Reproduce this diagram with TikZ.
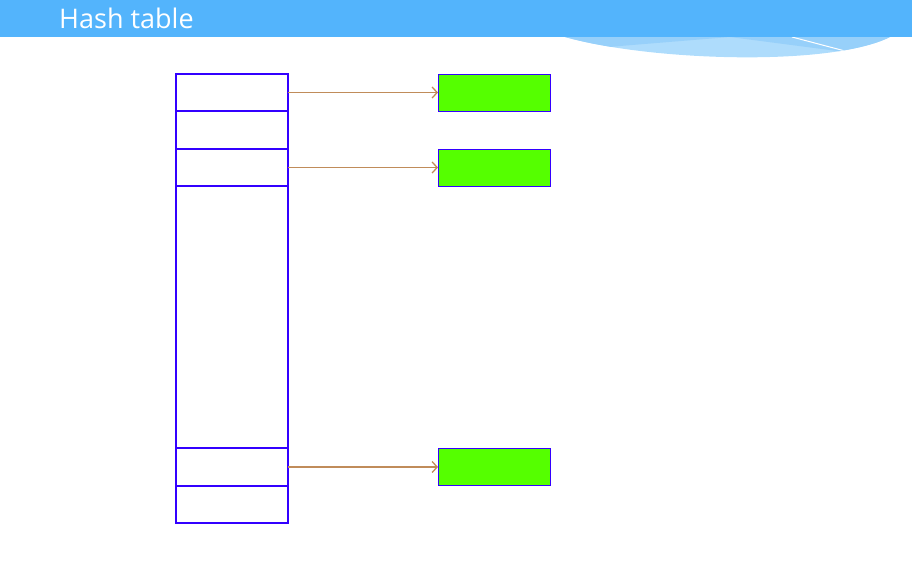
\documentclass[tikz,border=0pt]{standalone}
\usepackage{fontspec}
\setmainfont{Open Sans}
\usetikzlibrary{arrows.meta}
\definecolor{banner}{RGB}{83,180,252}
\definecolor{swlight}{RGB}{174,220,252}
\definecolor{swmed}{RGB}{151,208,250}
\definecolor{cellblue}{RGB}{51,0,255}
\definecolor{boxgreen}{RGB}{85,255,0}
\definecolor{arrbrown}{RGB}{192,140,90}
\tikzset{
  cell/.style={draw=cellblue, line width=2pt, fill=white, minimum width=112pt, inner sep=0pt, outer sep=0pt},
  gbox/.style={draw=cellblue, line width=1pt, fill=boxgreen, minimum width=112pt, minimum height=37pt, inner sep=0pt, outer sep=0pt},
  arr/.style={draw=arrbrown, line width=1.3pt, -{Straight Barb[length=5pt,width=11pt]}},
  title/.style={text=white, font=\fontsize{27}{32}\selectfont, anchor=base west, inner sep=0pt}
}
\begin{document}
\begin{tikzpicture}[x=1pt,y=-1pt]
\useasboundingbox (0,0) rectangle (912,573);
% swoosh
\begin{scope}
\clip (565,37) .. controls (650,61) and (830,67) .. (890,37) -- cycle;
\fill[swlight] (560,30) rectangle (900,70);
\fill[swmed] (560,37) -- (730,37) -- (620,46) -- (560,52) -- cycle;
\fill[swmed] (730,37) -- (845,52) -- (900,52) -- (900,37) -- cycle;
\draw[white, line width=1pt] (792,37) -- (845,51);
\end{scope}
% banner
\fill[banner] (0,0) rectangle (912,37);
\node[title] (title) at (59,28) {Hash table};
% table
\node[cell, minimum height=37pt] (r1) at (232,92.5) {};
\node[cell, minimum height=38pt] (r2) at (232,130) {};
\node[cell, minimum height=37pt] (r3) at (232,167.5) {};
\node[cell, minimum height=262pt] (r4) at (232,317) {};
\node[cell, minimum height=38pt] (r5) at (232,467) {};
\node[cell, minimum height=37pt] (r6) at (232,504.5) {};
% green boxes
\node[gbox] (g1) at (494,92.5) {};
\node[gbox] (g2) at (494,167.5) {};
\node[gbox] (g3) at (494,467) {};
% arrows
\draw[arr] (r1.east) -- (g1.west);
\draw[arr] (r3.east) -- (g2.west);
\draw[arr] (r5.east) -- (g3.west);
\end{tikzpicture}
\end{document}
